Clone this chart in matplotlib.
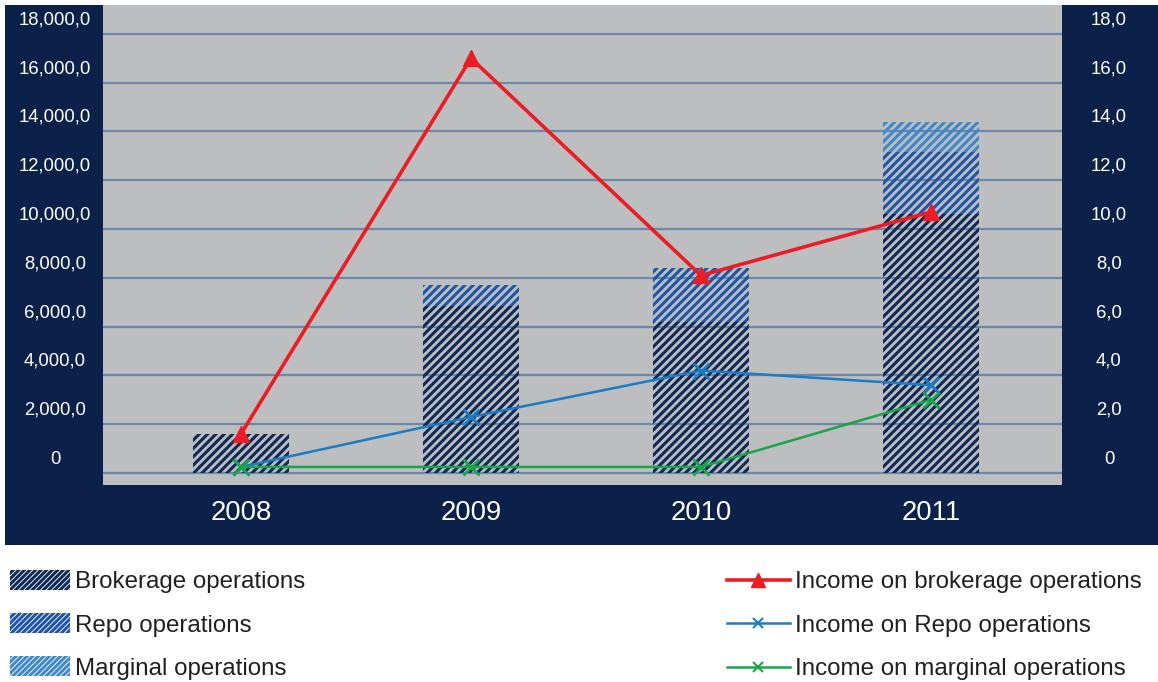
import numpy as np
import matplotlib
matplotlib.use("Agg")
import matplotlib.pyplot as plt
from matplotlib.patches import Rectangle, Patch
from matplotlib.lines import Line2D
import matplotlib.transforms as mtransforms

plt.rcParams['font.family'] = ['Liberation Sans', 'DejaVu Sans']
plt.rcParams['hatch.linewidth'] = 2.2

years = ['2008', '2009', '2010', '2011']
brokerage = [1600, 6850, 6200, 10600]
repo = [0, 850, 2200, 2550]
marginal = [0, 0, 0, 1250]
inc_brokerage = [1.6, 17.0, 8.1, 10.7]
inc_repo = [0.25, 2.3, 4.2, 3.6]
inc_marginal = [0.25, 0.25, 0.25, 3.0]
left_ticks = [0, 2000, 4000, 6000, 8000, 10000, 12000, 14000, 16000, 18000]

navy = '#0b2149'
panel = '#bcbec0'
grid_c = '#6d88a8'
c_brok, c_repo, c_marg = '#0f2a57', '#1f55a6', '#3f88cc'
c_red, c_blue, c_green = '#ec1c24', '#1b7cc4', '#19a54a'

fig = plt.figure(figsize=(11.58, 6.82), dpi=100)
fig.patches.append(Rectangle((5 / 1158, 1 - 545 / 682), 1 - 5 / 1158, 540 / 682,
                             transform=fig.transFigure, facecolor=navy, edgecolor='none', zorder=-10))

ax = fig.add_axes([103 / 1158, 1 - 485 / 682, 959 / 1158, 480 / 682])
ax.set_facecolor(panel)
x = np.arange(len(years))
ax.set_xlim(-0.6, 3.57)
ax.set_ylim(-490, 19180)
for t in left_ticks:
    ax.axhline(t, color=grid_c, lw=1.6, zorder=1)

bottoms = np.zeros(len(years))
for vals, col in [(brokerage, c_brok), (repo, c_repo), (marginal, c_marg)]:
    ax.bar(x, vals, 0.42, bottom=bottoms, facecolor='none', edgecolor=col,
           hatch='////', linewidth=0, zorder=2)
    bottoms += np.array(vals)

for s in ax.spines.values():
    s.set_visible(False)
ax.set_yticks([])
ax.set_xticks(x)
ax.set_xticklabels(years, color='white', fontsize=19.7)
ax.tick_params(axis='x', length=0, pad=11)

off = mtransforms.ScaledTranslation(0, 14 / 100, fig.dpi_scale_trans)
lt = mtransforms.blended_transform_factory(fig.transFigure, ax.transData) + off
for t in left_ticks:
    lab = '0' if t == 0 else f'{t:,},0'
    fig.text(55 / 1158, t, lab, transform=lt, color='white', fontsize=13.3,
             ha='center', va='center')
    lab2 = '0' if t == 0 else f'{t // 1000},0'
    fig.text(1109 / 1158, t, lab2, transform=lt, color='white', fontsize=13.3,
             ha='center', va='center')

ax2 = ax.twinx()
ax2.set_ylim(-0.49, 19.18)
ax2.set_yticks([])
for s in ax2.spines.values():
    s.set_visible(False)
ax2.plot(x, inc_brokerage, color=c_red, lw=2.6, marker='^', ms=12, zorder=5)
ax2.plot(x, inc_repo, color=c_blue, lw=1.8, marker='x', ms=11, mew=2, zorder=4)
ax2.plot(x, inc_marginal, color=c_green, lw=1.8, marker='x', ms=11, mew=2, zorder=4)

text_c = '#231f20'
h1 = [Patch(facecolor='none', edgecolor=c, hatch='//////', linewidth=0) for c in (c_brok, c_repo, c_marg)]
fig.legend(h1, ['Brokerage operations', 'Repo operations', 'Marginal operations'],
           loc='upper left', bbox_to_anchor=(10 / 1158, 1 - 570 / 682), frameon=False,
           fontsize=17.4, handlelength=2.5, handleheight=0.9, handletextpad=0.2,
           labelspacing=0.82, labelcolor=text_c, borderpad=0, borderaxespad=0)
h2 = [Line2D([], [], color=c_red, lw=2.6, marker='^', ms=10),
      Line2D([], [], color=c_blue, lw=1.8, marker='x', ms=7, mew=1.5),
      Line2D([], [], color=c_green, lw=1.8, marker='x', ms=7, mew=1.5)]
fig.legend(h2, ['Income on brokerage operations', 'Income on Repo operations',
                'Income on marginal operations'],
           loc='upper left', bbox_to_anchor=(727 / 1158, 1 - 571 / 682), frameon=False,
           fontsize=17.4, handlelength=2.6, handletextpad=0.2, labelspacing=0.9,
           labelcolor=text_c, borderpad=0, borderaxespad=0)

fig.savefig('out.png', dpi=100)
